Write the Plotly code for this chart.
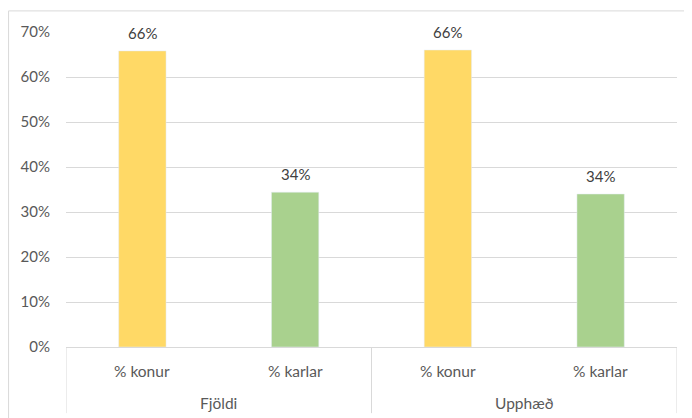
import plotly.graph_objects as go

groups = ["Fjöldi", "Fjöldi", "Upphæð", "Upphæð"]
categories = ["% konur", "% karlar", "% konur", "% karlar"]
values = [0.658, 0.344, 0.660, 0.340]
labels = ["66%", "34%", "66%", "34%"]
bar_colors = ["#FFD966", "#A9D18E", "#FFD966", "#A9D18E"]

FONT = "Lato, Open Sans, sans-serif"
GRID = "#D9D9D9"

keys = [f"{g}|{c}" for g, c in zip(groups, categories)]

fig = go.Figure()
fig.add_trace(go.Bar(
    x=keys,
    y=values,
    marker_color=bar_colors,
    width=0.31,
    hoverinfo="skip",
))

annotations = []
# value labels above bars
for k, v, t in zip(keys, values, labels):
    annotations.append(dict(
        x=k, y=v, xref="x", yref="y", text=t, showarrow=False,
        yanchor="middle", yshift=18,
        font={"size": 15, "color": "#404040"},
    ))
# inner category labels
for k, c in zip(keys, categories):
    annotations.append(dict(
        x=k, y=0, xref="x", yref="y", text=c, showarrow=False,
        yanchor="middle", yshift=-24,
        font={"size": 15.5, "color": "#595959"},
    ))
# group labels, centred under each pair
group_names = list(dict.fromkeys(groups))
for gname in group_names:
    idx = [i for i, g in enumerate(groups) if g == gname]
    annotations.append(dict(
        x=(idx[0] + idx[-1]) / 2, y=0, xref="x", yref="y", text=gname,
        showarrow=False, yanchor="middle", yshift=-56,
        font={"size": 15.5, "color": "#595959"},
    ))

# group dividers below the axis
shapes = []
bounds = [-0.5] + [i + 0.5 for i in range(len(groups) - 1) if groups[i] != groups[i + 1]] + [len(groups) - 0.5]
for b in bounds:
    shapes.append(dict(
        type="line", xref="x", yref="paper", x0=b, x1=b, y0=0, y1=-0.21,
        line={"color": GRID, "width": 1},
    ))
# outer chart border
shapes.append(dict(
    type="rect", xref="paper", yref="paper",
    x0=-0.094, x1=1.04, y0=-0.3, y1=1.067,
    line={"color": GRID, "width": 1},
))

fig.update_layout(
    width=684, height=410,
    margin={"l": 58, "r": 15, "t": 24, "b": 71, "autoexpand": False},
    paper_bgcolor="white",
    plot_bgcolor="white",
    font={"family": FONT, "size": 15, "color": "#595959"},
    showlegend=False,
    annotations=annotations,
    shapes=shapes,
)
fig.update_yaxes(
    range=[0, 0.7],
    dtick=0.1,
    tickformat=".0%",
    showgrid=True,
    gridcolor=GRID,
    zeroline=False,
    showline=False,
    ticks="",
    ticklabelstandoff=15,
    automargin=False,
)
fig.update_xaxes(
    range=[-0.5, 3.5],
    showticklabels=False,
    showline=True,
    linecolor=GRID,
    showgrid=False,
    ticks="",
    automargin=False,
)

fig.write_html("out.html")
